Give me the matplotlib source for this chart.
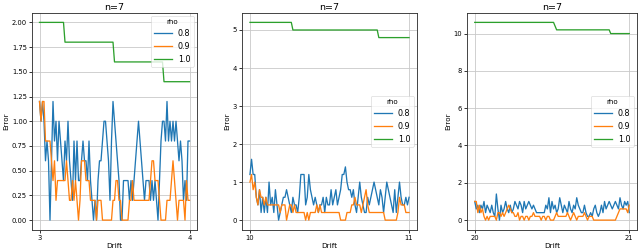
import numpy as np
import matplotlib
matplotlib.use("Agg")
import matplotlib.pyplot as plt

# ---------------- data ----------------
rho_labels = ["0.8", "0.9", "1.0"]
title = "n=7"

drift_start_1 = 3
drift_start_2 = 10
drift_start_3 = 20
n_points = 101
xticks_1 = [3, 4]
xticks_2 = [10, 11]
xticks_3 = [20, 21]

blue_1 = [1.2, 1.0, 1.2, 1.0, 0.6, 0.8, 0.6, 0.0, 0.6, 1.2,
          0.8, 1.0, 0.6, 1.0, 0.8, 0.6, 0.4, 0.8, 0.6, 1.0,
          0.6, 0.4, 0.2, 0.8, 0.4, 0.8, 0.4, 0.4, 0.6, 0.8,
          0.6, 0.6, 0.4, 0.8, 0.4, 0.2, 0.0, 0.2, 0.0, 0.4,
          0.6, 0.6, 0.8, 1.0, 1.0, 0.8, 0.6, 0.2, 0.8, 1.2,
          1.0, 0.8, 0.6, 0.4, 0.0, 0.0, 0.4, 0.4, 0.4, 0.4,
          0.2, 0.4, 0.2, 0.4, 0.6, 0.8, 1.0, 0.8, 0.6, 0.4,
          0.2, 0.4, 0.4, 0.4, 0.2, 0.4, 0.2, 0.4, 0.2, 0.0,
          0.4, 0.8, 1.0, 1.0, 0.8, 1.2, 0.8, 1.0, 0.8, 1.0,
          0.8, 1.0, 0.8, 0.6, 0.8, 0.6, 0.2, 0.4, 0.2, 0.8,
          0.8]
orange_1 = [1.2, 1.0, 1.2, 1.2, 0.8, 0.8, 0.8, 0.8, 0.6, 0.4,
            0.6, 0.2, 0.4, 0.4, 0.4, 0.4, 0.4, 0.4, 0.6, 0.4,
            0.2, 0.2, 0.4, 0.2, 0.4, 0.2, 0.0, 0.2, 0.6, 0.6,
            0.6, 0.4, 0.4, 0.4, 0.2, 0.2, 0.2, 0.2, 0.0, 0.2,
            0.2, 0.2, 0.0, 0.0, 0.0, 0.0, 0.0, 0.0, 0.0, 0.2,
            0.2, 0.4, 0.4, 0.2, 0.2, 0.0, 0.0, 0.0, 0.0, 0.0,
            0.2, 0.2, 0.4, 0.2, 0.2, 0.2, 0.2, 0.2, 0.2, 0.2,
            0.2, 0.2, 0.2, 0.2, 0.4, 0.6, 0.6, 0.4, 0.4, 0.4,
            0.2, 0.0, 0.0, 0.0, 0.0, 0.2, 0.2, 0.2, 0.4, 0.6,
            0.4, 0.2, 0.0, 0.2, 0.2, 0.2, 0.2, 0.0, 0.4, 0.2,
            0.2]
green_1 = [2.0] * 17 + [1.8] * 33 + [1.6] * 33 + [1.4] * 18

blue_2 = [1.2, 1.6, 1.2, 1.2, 0.6, 0.4, 0.8, 0.2, 0.6, 0.2,
          0.6, 0.2, 1.0, 0.4, 0.6, 0.2, 0.8, 0.4, 0.0, 0.2,
          0.4, 0.6, 0.6, 0.8, 0.6, 0.4, 0.2, 0.6, 0.4, 0.4,
          0.2, 0.6, 1.2, 1.2, 1.2, 0.4, 0.6, 1.2, 0.8, 0.6,
          0.4, 0.6, 0.4, 0.2, 0.4, 0.4, 0.6, 0.2, 0.6, 0.4,
          0.4, 0.8, 0.4, 0.6, 0.8, 0.4, 0.6, 0.8, 1.2, 1.2,
          1.4, 1.0, 0.8, 0.8, 0.6, 0.8, 0.4, 0.2, 0.6, 1.0,
          0.6, 0.4, 0.2, 0.2, 0.6, 0.4, 0.6, 0.8, 1.0, 0.8,
          0.6, 0.4, 0.8, 0.6, 0.2, 0.6, 1.0, 0.8, 0.6, 0.4,
          0.2, 0.8, 0.2, 0.6, 1.0, 0.6, 0.4, 0.4, 0.6, 0.4,
          0.6]
orange_2 = [1.0, 1.2, 0.8, 1.0, 0.6, 0.4, 0.8, 0.6, 0.6, 0.4,
            0.6, 0.4, 0.4, 0.4, 0.4, 0.4, 0.4, 0.4, 0.4, 0.2,
            0.4, 0.4, 0.4, 0.0, 0.2, 0.4, 0.4, 0.2, 0.4, 0.2,
            0.2, 0.2, 0.2, 0.2, 0.2, 0.0, 0.2, 0.0, 0.2, 0.2,
            0.2, 0.2, 0.4, 0.2, 0.4, 0.2, 0.2, 0.2, 0.2, 0.2,
            0.2, 0.2, 0.2, 0.2, 0.2, 0.2, 0.2, 0.0, 0.0, 0.0,
            0.0, 0.2, 0.2, 0.2, 0.4, 0.4, 0.6, 0.4, 0.4, 0.4,
            0.2, 0.4, 0.6, 0.8, 0.4, 0.2, 0.2, 0.2, 0.2, 0.2,
            0.2, 0.2, 0.2, 0.2, 0.2, 0.0, 0.0, 0.0, 0.0, 0.0,
            0.0, 0.0, 0.0, 0.2, 0.6, 0.4, 0.4, 0.4, 0.2, 0.2,
            0.2]
green_2 = [5.2] * 27 + [5.0] * 54 + [4.8] * 20

blue_3 = [1.0, 0.6, 0.8, 0.4, 0.8, 0.6, 1.0, 0.4, 0.8, 0.6,
          0.4, 0.8, 0.4, 0.2, 1.4, 0.6, 0.0, 0.8, 0.4, 0.6,
          1.0, 0.6, 0.4, 0.8, 0.4, 0.6, 1.0, 0.8, 0.6, 1.0,
          0.8, 0.4, 1.0, 0.6, 0.8, 1.0, 0.8, 0.6, 0.8, 0.6,
          0.4, 0.4, 0.4, 0.4, 0.4, 0.4, 0.8, 0.6, 1.2, 0.4,
          1.0, 0.6, 0.8, 0.4, 0.6, 1.2, 0.8, 0.4, 0.8, 0.6,
          0.4, 1.0, 0.6, 0.4, 0.8, 0.6, 1.2, 0.8, 0.6, 0.4,
          0.4, 0.8, 0.4, 0.2, 0.2, 0.4, 0.2, 0.6, 0.8, 0.4,
          0.2, 0.4, 0.8, 0.4, 1.0, 0.6, 0.8, 1.0, 0.8, 0.6,
          0.8, 1.0, 0.8, 0.6, 1.2, 0.8, 0.6, 1.0, 0.8, 1.0,
          0.4]
orange_3 = [1.0, 1.0, 0.4, 0.8, 0.4, 0.6, 0.2, 0.0, 0.2, 0.0,
            0.2, 0.2, 0.2, 0.2, 0.0, 0.4, 0.4, 0.2, 0.4, 0.2,
            0.4, 0.6, 0.8, 0.6, 0.4, 0.4, 0.2, 0.2, 0.4, 0.0,
            0.2, 0.2, 0.0, 0.2, 0.2, 0.0, 0.2, 0.2, 0.4, 0.2,
            0.2, 0.2, 0.2, 0.0, 0.2, 0.2, 0.0, 0.2, 0.2, 0.0,
            0.0, 0.0, 0.2, 0.4, 0.2, 0.2, 0.2, 0.2, 0.2, 0.2,
            0.4, 0.2, 0.0, 0.2, 0.4, 0.2, 0.0, 0.2, 0.2, 0.2,
            0.2, 0.4, 0.2, 0.0, 0.2, 0.2, 0.2, 0.0, 0.0, 0.0,
            0.0, 0.0, 0.0, 0.0, 0.0, 0.0, 0.0, 0.0, 0.0, 0.0,
            0.0, 0.0, 0.2, 0.4, 0.6, 0.6, 0.6, 0.6, 0.6, 0.4,
            0.8]
green_3 = [10.6] * 52 + [10.4] + [10.2] * 35 + [10.0] * 13

panels = [
    (drift_start_1, xticks_1, [blue_1, orange_1, green_1], "upper right"),
    (drift_start_2, xticks_2, [blue_2, orange_2, green_2], "center right"),
    (drift_start_3, xticks_3, [blue_3, orange_3, green_3], "center right"),
]

# ---------------- plotting ----------------
W, H = 640, 251
dpi = 640 / 15.0
fig = plt.figure(figsize=(W / dpi, H / dpi), dpi=dpi)

positions = [
    (32 / W, 21 / H, 165 / W, 217.5 / H),
    (242 / W, 21 / H, 175 / W, 217.5 / H),
    (467 / W, 21 / H, 170 / W, 217.5 / H),
]
colors = ["#1f77b4", "#ff7f0e", "#2ca02c"]

for pos, (start, xt, series, loc) in zip(positions, panels):
    ax = fig.add_axes(pos)
    x = start + np.arange(n_points) / (n_points - 1)
    for vals, lab, c in zip(series, rho_labels, colors):
        ax.plot(x, vals, color=c, label=lab, lw=2.2)
    ax.set_xticks(xt)
    ax.set_xticklabels([str(t) for t in xt])
    ax.tick_params(labelsize=11.5, width=1.3, length=5)
    ax.grid(True, color="#c8c8c8", lw=1.4)
    ax.set_axisbelow(True)
    for s in ax.spines.values():
        s.set_linewidth(1.5)
        s.set_color("#333333")
    ax.set_title(title, fontsize=16, pad=5)
    ax.set_xlabel("Drift", fontsize=12.5, labelpad=3)
    ax.set_ylabel("Error", fontsize=12, labelpad=4)
    leg = ax.legend(title="rho", loc=loc, fontsize=13.5, title_fontsize=12,
                    handlelength=2.2, borderaxespad=0.4)

fig.savefig("out.png", dpi=dpi)
